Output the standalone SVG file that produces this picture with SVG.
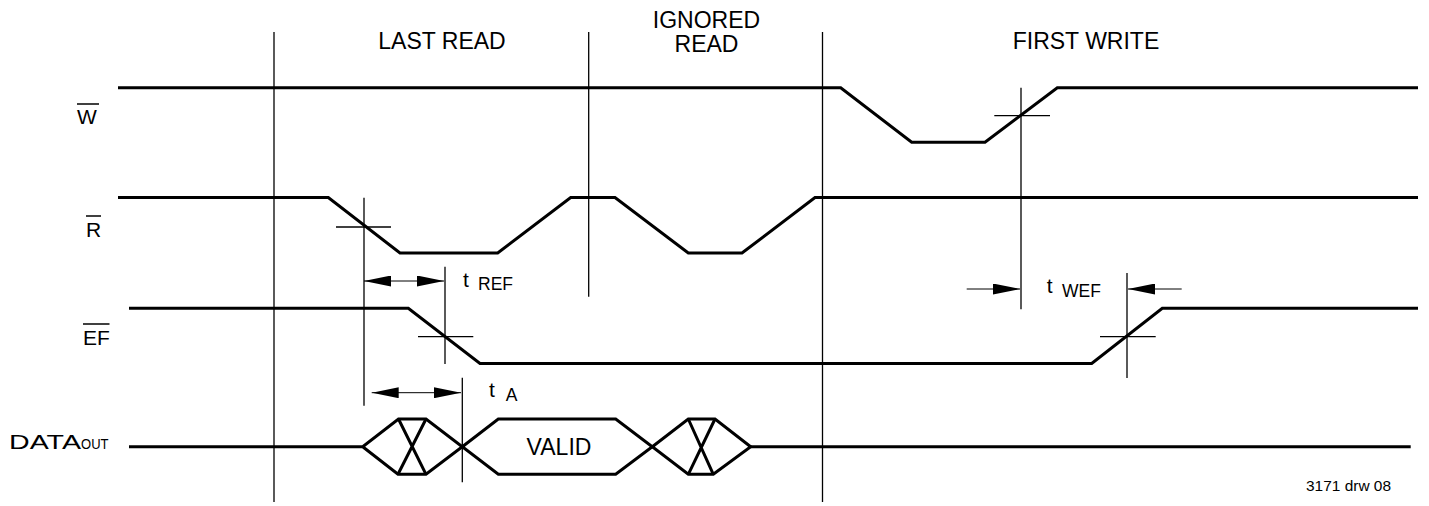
<svg xmlns="http://www.w3.org/2000/svg" width="1429" height="506" viewBox="0 0 1429 506">
<style>
  text { font-family: "Liberation Sans", Arial, Helvetica, sans-serif; fill: #000; }
  .sig { fill: none; stroke: #000; stroke-width: 3; stroke-linejoin: miter; }
  .thin { fill: none; stroke: #000; stroke-width: 1.3; }
  .dim { fill: none; stroke: #000; stroke-width: 1; }
  .bar { stroke: #000; stroke-width: 1.5; }
  .hdr { font-size: 23px; text-anchor: middle; }
  .lbl { font-size: 21px; }
  .t { font-size: 21px; }
  .sub { font-size: 17.5px; }
</style>
<defs>
  <marker id="arr" viewBox="0 0 27 11" refX="27" refY="5.5" markerWidth="27" markerHeight="11" markerUnits="userSpaceOnUse" orient="auto-start-reverse">
    <path d="M0,0 L27,5.5 L0,11 z" fill="#000"/>
  </marker>
</defs>
<rect width="1429" height="506" fill="#fff"/>

<g id="headers">
  <text class="hdr" x="442" y="49">LAST READ</text>
  <text class="hdr" x="706.5" y="28">IGNORED</text>
  <text class="hdr" x="706.5" y="51.5">READ</text>
  <text class="hdr" x="1086" y="49">FIRST WRITE</text>
</g>

<g id="signal-W">
  <text class="lbl" x="77" y="124" font-size="22">W</text>
  <line class="bar" x1="77" y1="104" x2="99" y2="104"/>
  <path class="sig" d="M118,87.7 H840.7 L911.7,142.3 H985 L1057.3,87.7 H1418"/>
</g>

<g id="signal-R">
  <text class="lbl" x="86" y="237">R</text>
  <line class="bar" x1="86" y1="216" x2="101" y2="216"/>
  <path class="sig" d="M118,197.5 H328.3 L400,253 H497.7 L570.7,197.5 H615 L688.3,253 H742 L815,197.5 H1418"/>
</g>

<g id="signal-EF">
  <text class="lbl" x="83" y="345">EF</text>
  <line class="bar" x1="83" y1="324" x2="109.5" y2="324"/>
  <path class="sig" d="M129,308.3 H408.3 L480,363.5 H1091.7 L1162.3,308.3 H1418"/>
</g>

<g id="signal-DATA">
  <text class="lbl" x="9" y="448.5" textLength="72" lengthAdjust="spacingAndGlyphs">DATA</text>
  <text x="81" y="448.5" font-size="15" textLength="27.5" lengthAdjust="spacingAndGlyphs">OUT</text>
  <path class="sig" d="M129,446.7 H362.7 L398.5,419 H426 L462.3,446.7 L426,474.3 H398 L362.7,446.7"/>
  <path class="sig" d="M398.5,419 L426,474.3 M426,419 L398,474.3"/>
  <path class="sig" d="M462.3,446.7 L498.3,419 H615.7 L652.3,446.7 L615.7,474.3 H498.3 Z"/>
  <text class="hdr" x="559" y="454.5">VALID</text>
  <path class="sig" d="M652.3,446.7 L688.3,419 H715 L750.7,446.7 L713.3,474.3 H688.3 Z"/>
  <path class="sig" d="M688.3,419 L713.3,474.3 M715,419 L688.3,474.3"/>
  <path class="sig" d="M750.7,446.7 H1410.7"/>
</g>

<g id="connectors">
  <!-- phase boundaries -->
  <line class="thin" x1="274" y1="32" x2="274" y2="502"/>
  <line class="thin" x1="588.7" y1="32" x2="588.7" y2="296.7"/>
  <line class="thin" x1="822.5" y1="32" x2="822.5" y2="502"/>
  <!-- reference lines -->
  <line class="thin" x1="364" y1="197.7" x2="364" y2="405.7"/>
  <line class="thin" x1="336" y1="227" x2="391" y2="227"/>
  <line class="thin" x1="445" y1="266.7" x2="445" y2="364"/>
  <line class="thin" x1="418" y1="336.7" x2="473.3" y2="336.7"/>
  <line class="thin" x1="462.3" y1="377.7" x2="462.3" y2="482.3"/>
  <line class="thin" x1="1021" y1="87.7" x2="1021" y2="309.3"/>
  <line class="thin" x1="994.3" y1="115.7" x2="1050" y2="115.7"/>
  <line class="thin" x1="1127" y1="273" x2="1127" y2="378"/>
  <line class="thin" x1="1100" y1="336.7" x2="1155.7" y2="336.7"/>
  <!-- dimension arrows -->
  <line class="dim" x1="364" y1="281" x2="444" y2="281" marker-start="url(#arr)" marker-end="url(#arr)"/>
  <line class="dim" x1="371.7" y1="392.7" x2="461" y2="392.7" marker-start="url(#arr)" marker-end="url(#arr)"/>
  <line class="dim" x1="966.7" y1="289" x2="1020" y2="289" marker-end="url(#arr)"/>
  <line class="dim" x1="1181.7" y1="289" x2="1128" y2="289" marker-end="url(#arr)"/>
</g>

<g id="timing-labels">
  <text class="t" x="463" y="287">t</text>
  <text class="sub" x="478" y="289.5">REF</text>
  <text class="t" x="489" y="397">t</text>
  <text class="sub" x="505.7" y="401">A</text>
  <text class="t" x="1046.7" y="293">t</text>
  <text class="sub" x="1062" y="296.5">WEF</text>
</g>

<text x="1306" y="491" font-size="15" textLength="85" lengthAdjust="spacingAndGlyphs">3171 drw 08</text>
</svg>
